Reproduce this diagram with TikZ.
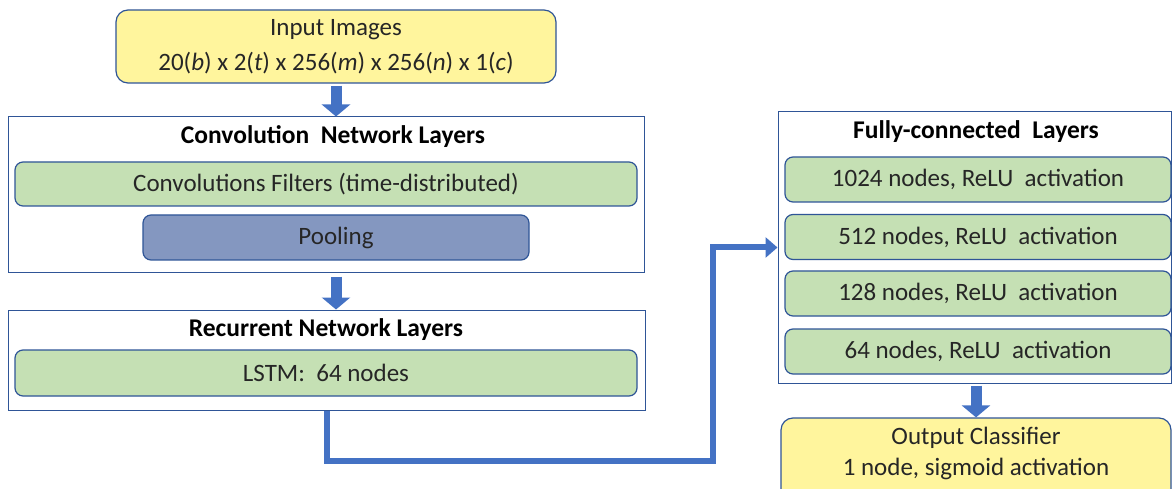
\documentclass[tikz,border=0pt]{standalone}
\usepackage{fontspec}
\setmainfont{Carlito}
\usetikzlibrary{arrows.meta}
\definecolor{boxline}{HTML}{2F5597}
\definecolor{inyellow}{HTML}{FFF59D}
\definecolor{layergreen}{HTML}{C5E0B4}
\definecolor{poolblue}{HTML}{8497C0}
\definecolor{flowblue}{HTML}{4472C4}
\definecolor{inktext}{HTML}{262626}

\begin{document}
\begin{tikzpicture}[x=1pt, y=-1pt,
    every node/.style={font=\fontsize{25}{35}\selectfont, text=inktext, inner sep=0pt},
    group/.style={draw=boxline, line width=1pt, fill=white},
    title/.style={font=\fontsize{25.5}{30}\selectfont\bfseries, text=black},
    layer/.style={draw=boxline, line width=1.2pt, fill=layergreen, rounded corners=8pt},
    poolbox/.style={draw=boxline, line width=1.2pt, fill=poolblue, rounded corners=8pt},
    ends/.style={draw=boxline, line width=1.2pt, fill=inyellow, rounded corners=12pt, align=center},
    fat/.style={flowblue, line width=11pt, -{Triangle[length=12pt, width=28pt]}},
    link/.style={flowblue, line width=6pt, -{Triangle[length=12pt, width=20pt]}}]
        \clip (0, 0) rectangle (1173, 489);
        \useasboundingbox (0, 0) rectangle (1173, 489);

        \node[ends, minimum width=440pt, minimum height=73pt] (input) at (336, 46.5)
            {Input Images\\20(\textit{b}) x 2(\textit{t}) x 256(\textit{m}) x 256(\textit{n}) x 1(\textit{c})};

        \node[group, minimum width=636pt, minimum height=156pt] (conv) at (326, 195) {};
        \node[title] (convtitle) at (333, 137) {Convolution\ \ Network Layers};
        \node[layer, minimum width=622pt, minimum height=44pt] (filters) at (326, 184)
            {Convolutions Filters (time-distributed)};
        \node[poolbox, minimum width=386pt, minimum height=45pt] (pool) at (336, 237.5) {Pooling};

        \node[group, minimum width=637pt, minimum height=100pt] (rnn) at (326.5, 360) {};
        \node[title] (rnntitle) at (326, 330) {Recurrent Network Layers};
        \node[layer, minimum width=622pt, minimum height=46pt] (lstm) at (326, 373) {LSTM:\ \ 64 nodes};

        \node[group, minimum width=393pt, minimum height=271pt] (fc) at (974.5, 247.5) {};
        \node[title] (fctitle) at (976, 132) {Fully-connected\ \ Layers};
        \node[layer, minimum width=386pt, minimum height=45pt] (fc1) at (978, 179.5) {1024 nodes, ReLU\ \ activation};
        \node[layer, minimum width=386pt, minimum height=45pt] (fc2) at (978, 237) {512 nodes, ReLU\ \ activation};
        \node[layer, minimum width=386pt, minimum height=45pt] (fc3) at (978, 293.5) {128 nodes, ReLU\ \ activation};
        \node[layer, minimum width=386pt, minimum height=45pt] (fc4) at (978, 351.5) {64 nodes, ReLU\ \ activation};

        \node[ends, minimum width=390pt, minimum height=90pt] (output) at (976, 463) {};
        \node (outtext) at (976, 453.5) [align=center, font=\fontsize{25}{31}\selectfont]
            {Output Classifier\\1 node, sigmoid activation};

        \coordinate (turn) at (713, 461);

        \draw[fat, shorten <=2pt] (input.south) -- (input.south |- conv.north);
        \draw[fat, shorten <=3pt] (pool.south |- conv.south) -- (pool.south |- rnn.north);
        \draw[fat, shorten <=2pt] (fc.south -| output.north) -- (output.north);
        \draw[link] (rnn.south) |- (turn) |- (fc.west);
\end{tikzpicture}
\end{document}
